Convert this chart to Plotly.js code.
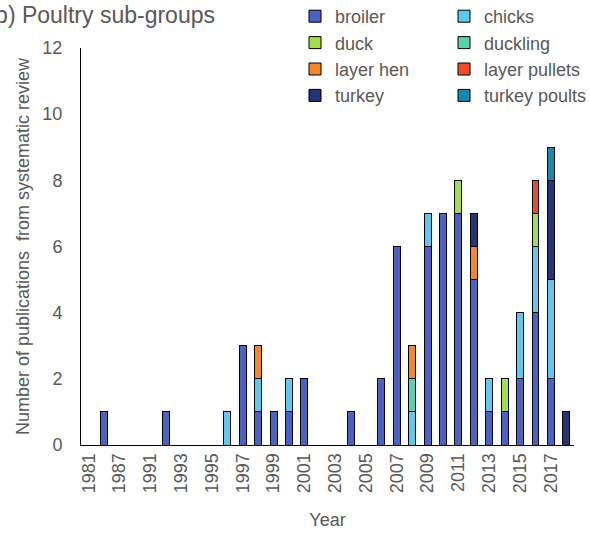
<!DOCTYPE html>
<html><head><meta charset="utf-8">
<script src="https://cdn.plot.ly/plotly-3.0.1.min.js"></script>
<style>html,body{margin:0;padding:0;background:#fff}#chart{width:590px;height:534px}</style>
</head><body><div id="chart"></div>
<script>
const years = ['1981','1986','1987','1990','1991','1992','1993','1994','1995','1996','1997','1998','1999','2000','2001','2002','2003','2004','2005','2006','2007','2008','2009','2010','2011','2012','2013','2014','2015','2016','2017','2018'];
const tickLabels = ['1981','1987','1991','1993','1995','1997','1999','2001','2003','2005','2007','2009','2011','2013','2015','2017'];

const broiler       = [0,1,0,0,0,1,0,0,0,0,3,1,1,1,2,0,0,1,0,2,6,0,6,7,7,5,1,1,2,4,2,0];
const chicks        = [0,0,0,0,0,0,0,0,0,1,0,1,0,1,0,0,0,0,0,0,0,1,1,0,0,0,1,0,2,2,3,0];
const duck          = [0,0,0,0,0,0,0,0,0,0,0,0,0,0,0,0,0,0,0,0,0,0,0,0,1,0,0,1,0,1,0,0];
const duckling      = [0,0,0,0,0,0,0,0,0,0,0,0,0,0,0,0,0,0,0,0,0,1,0,0,0,0,0,0,0,0,0,0];
const layerHen      = [0,0,0,0,0,0,0,0,0,0,0,1,0,0,0,0,0,0,0,0,0,1,0,0,0,1,0,0,0,0,0,0];
const layerPullets  = [0,0,0,0,0,0,0,0,0,0,0,0,0,0,0,0,0,0,0,0,0,0,0,0,0,0,0,0,0,1,0,0];
const turkey        = [0,0,0,0,0,0,0,0,0,0,0,0,0,0,0,0,0,0,0,0,0,0,0,0,0,1,0,0,0,0,3,1];
const turkeyPoults  = [0,0,0,0,0,0,0,0,0,0,0,0,0,0,0,0,0,0,0,0,0,0,0,0,0,0,0,0,0,0,1,0];

const seriesNames = ['broiler','chicks','duck','duckling','layer hen','layer pullets','turkey','turkey poults'];
const seriesValues = [broiler, chicks, duck, duckling, layerHen, layerPullets, turkey, turkeyPoults];
const seriesColors = ['#4a62c6','#5bc9f0','#a2df4b','#5ccfae','#f7862a','#ee4a2b','#243479','#1688b3'];
const legendOf = ['legend','legend2','legend','legend2','legend','legend2','legend','legend2'];

const traces = seriesNames.map((name, i) => ({
  type: 'bar',
  name: name,
  x: years,
  y: seriesValues[i].map(v => v === 0 ? null : v),
  marker: {color: seriesColors[i], line: {color: '#000000', width: 1}},
  legend: legendOf[i],
  hoverinfo: 'x+y+name'
}));

const gray = '#595959';
const fam = '"Liberation Sans", Arial, sans-serif';
const L = 81, R = 16, T = 48, B = 89;
const pw = 590 - L - R, ph = 534 - T - B;
const px2paperX = p => (p - L) / pw;
const px2paperY = p => (534 - B - p) / ph;

const layout = {
  width: 590, height: 534,
  paper_bgcolor: '#ffffff', plot_bgcolor: '#ffffff',
  margin: {l: L, r: R, t: T, b: B, pad: 0, autoexpand: false},
  barmode: 'stack',
  bargap: 0.55,
  font: {family: fam, color: gray, size: 18},
  title: {text: 'b) Poultry sub-groups', xref: 'container', x: 215/590, xanchor: 'right',
          yref: 'container', y: 1 - 15/534, yanchor: 'middle',
          font: {family: fam, size: 23, color: gray}},
  xaxis: {
    type: 'category', categoryorder: 'array', categoryarray: years,
    range: [-0.5, years.length - 0.5],
    tickmode: 'array', tickvals: tickLabels, ticktext: tickLabels,
    tickangle: -90, ticks: '', showgrid: false, zeroline: false,
    showline: true, linecolor: '#000000', linewidth: 1,
    tickfont: {family: fam, size: 18, color: gray},
    title: {text: 'Year', font: {family: fam, size: 18, color: gray}, standoff: 21}
  },
  yaxis: {
    range: [0, 12], dtick: 2, tick0: 0, ticks: '', showgrid: false, zeroline: false,
    showline: true, linecolor: '#000000', linewidth: 1,
    ticklabelstandoff: 14,
    tickfont: {family: fam, size: 18, color: gray},
    title: {text: 'Number of publications&nbsp; from systematic review', font: {family: fam, size: 18, color: gray}, standoff: 8}
  },
  legend: {x: px2paperX(295), y: px2paperY(-2), xanchor: 'left', yanchor: 'top', traceorder: 'normal',
           bgcolor: 'rgba(0,0,0,0)', font: {family: fam, size: 18, color: gray}, orientation: 'v'},
  legend2: {x: px2paperX(444), y: px2paperY(-2), xanchor: 'left', yanchor: 'top', traceorder: 'normal',
           bgcolor: 'rgba(0,0,0,0)', font: {family: fam, size: 18, color: gray}, orientation: 'v'},
  showlegend: true
};

Plotly.newPlot('chart', traces, layout, {displayModeBar: false, staticPlot: true});
</script></body></html>
